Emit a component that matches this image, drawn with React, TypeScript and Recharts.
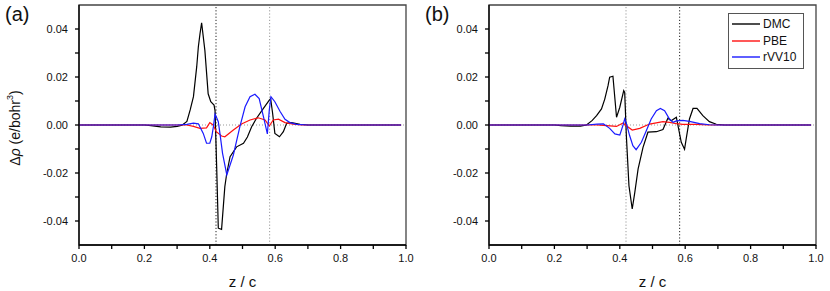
import React from 'react';
import { LineChart, Line, XAxis, YAxis, ReferenceLine, ReferenceArea, Legend } from 'recharts';

type Pt = [number, number];

// panel (a)
const dmcA: Pt[] = [
  [0, 0], [0.2, 0], [0.22, -0.0003], [0.25, -0.0008], [0.28, -0.0009], [0.3, -0.0006], [0.315, -0.0001],
  [0.33, 0.0015], [0.34, 0.0063], [0.35, 0.0118], [0.36, 0.0243], [0.365, 0.0326], [0.37, 0.038],
  [0.375, 0.0426], [0.385, 0.031], [0.395, 0.013], [0.403, 0.0097], [0.413, 0.0083], [0.416, 0.006],
  [0.421, -0.0174], [0.426, -0.043], [0.436, -0.0435], [0.446, -0.0257], [0.452, -0.02], [0.462, -0.0132],
  [0.482, -0.0091], [0.503, -0.0076], [0.515, -0.005], [0.528, -0.0007], [0.543, 0.0028], [0.564, 0.0069],
  [0.582, 0.0104], [0.586, 0.011], [0.592, 0.005], [0.599, -0.0035], [0.613, -0.0049], [0.625, -0.0028],
  [0.635, 0.0007], [0.65, 0.001], [0.676, 0.0003], [0.7, 0], [0.985, 0],
];
const pbeA: Pt[] = [
  [0, 0], [0.33, 0], [0.35, -0.0006], [0.37, -0.0014], [0.39, -0.0012], [0.4, 0.001], [0.41, 0],
  [0.42, -0.0028], [0.436, -0.0046], [0.446, -0.0049], [0.472, -0.0021], [0.497, 0.0004], [0.523, 0.0021],
  [0.548, 0.003], [0.569, 0.0021], [0.582, -0.0004], [0.594, 0.0021], [0.61, 0.0024], [0.63, 0.001],
  [0.655, 0.0003], [0.68, 0], [0.985, 0],
];
const rvvA: Pt[] = [
  [0, 0], [0.3, 0], [0.33, 0.0003], [0.35, 0.0008], [0.365, 0.0005], [0.38, -0.0035], [0.39, -0.0076],
  [0.4, -0.0076], [0.406, -0.0049], [0.411, -0.0007], [0.416, 0.0045], [0.421, 0.003], [0.426, 0.0014],
  [0.431, -0.0035], [0.439, -0.0118], [0.452, -0.0208], [0.472, -0.0125], [0.492, -0.0007], [0.508, 0.0076],
  [0.523, 0.0118], [0.538, 0.0128], [0.551, 0.011], [0.564, 0.0035], [0.576, -0.0037], [0.582, 0.0063],
  [0.587, 0.0118], [0.599, 0.0097], [0.615, 0.0056], [0.63, 0.0024], [0.645, 0.001], [0.666, 0.0003],
  [0.7, 0], [0.985, 0],
];

// panel (b)
const dmcB: Pt[] = [
  [0, 0], [0.2, 0], [0.22, -0.0003], [0.25, -0.0005], [0.28, -0.0005], [0.298, 0], [0.315, 0.0018],
  [0.329, 0.0039], [0.344, 0.0067], [0.354, 0.0108], [0.364, 0.0164], [0.369, 0.0199], [0.379, 0.0203],
  [0.39, 0.0032], [0.4, 0.0074], [0.412, 0.0143], [0.415, 0.0136], [0.42, -0.0044], [0.428, -0.0253],
  [0.438, -0.035], [0.446, -0.028], [0.456, -0.0183], [0.471, -0.0093], [0.486, -0.003], [0.512, -0.0028],
  [0.532, -0.0019], [0.547, 0.0028], [0.557, 0.0018], [0.573, 0.0032], [0.581, -0.0024], [0.588, -0.0072],
  [0.598, -0.0101], [0.603, -0.0058], [0.613, 0.0025], [0.624, 0.0069], [0.636, 0.0069], [0.654, 0.0039],
  [0.674, 0.0014], [0.695, 0.0003], [0.72, 0], [0.985, 0],
];
const pbeB: Pt[] = [
  [0, 0], [0.33, 0], [0.36, -0.0003], [0.39, -0.0006], [0.41, 0.0008], [0.42, -0.0003], [0.438, -0.0021],
  [0.461, -0.0014], [0.491, 0.0004], [0.532, 0.0014], [0.552, 0.0011], [0.573, 0.0006], [0.593, 0.0003],
  [0.634, 0.0003], [0.67, 0], [0.985, 0],
];
const rvvB: Pt[] = [
  [0, 0], [0.3, 0], [0.33, 0.0004], [0.35, 0.0005], [0.369, -0.0014], [0.385, -0.0037], [0.4, -0.0042],
  [0.41, 0], [0.415, 0.0025], [0.42, 0.0008], [0.43, -0.0044], [0.44, -0.0086], [0.45, -0.0103],
  [0.466, -0.0072], [0.481, -0.0024], [0.496, 0.0025], [0.512, 0.006], [0.524, 0.0069], [0.537, 0.006],
  [0.552, 0.0025], [0.563, 0.0011], [0.573, 0.0017], [0.593, 0.0019], [0.613, 0.0015], [0.644, 0.0006],
  [0.674, 0.0001], [0.7, 0], [0.985, 0],
];

const seriesNames = ['DMC', 'PBE', 'rVV10'];
const seriesColors = ['#000000', '#ff1010', '#1a1aff'];
const xTicks = [0, 0.1, 0.2, 0.3, 0.4, 0.5, 0.6, 0.7, 0.8, 0.9, 1.0];
const yTicks = [-0.04, -0.03, -0.02, -0.01, 0, 0.01, 0.02, 0.03, 0.04];
const slabLines = [0.419, 0.583];

const font = '"Liberation Sans", Arial, sans-serif';
const toRows = (pts: Pt[], key: string) => pts.map(([z, rho]) => ({ z, [key]: rho }));

const xFmt = (v: number) => (Math.round(v * 10) % 2 === 0 ? v.toFixed(1) : '');
const yFmt = (v: number) => (Math.round(v * 100) % 2 === 0 ? v.toFixed(2) : '');

const YLabel = (p: any) => {
  const vb = p.viewBox || { y: 5, height: 240 };
  const cx = 20;
  const cy = vb.y + vb.height / 2 + 3;
  return (
    <text x={cx} y={cy} transform={`rotate(-90 ${cx} ${cy})`} textAnchor="middle" fontSize={14} fill="#111" fontFamily={font}>
      <tspan>Δ</tspan>
      <tspan fontStyle="italic">ρ</tspan>
      <tspan> (e/bohr</tspan>
      <tspan dy={-7} fontSize={9}>3</tspan>
      <tspan dy={7}>)</tspan>
    </text>
  );
};

const XLabel = (p: any) => {
  const vb = p.viewBox || { x: 79, width: 327 };
  return (
    <text x={vb.x + vb.width / 2} y={287} textAnchor="middle" fontSize={15} fill="#111" fontFamily={font}>
      z / c
    </text>
  );
};

const LegendBox = () => (
  <div style={{ border: '1px solid #555', background: '#fff', padding: '2px 3px', width: 68, fontFamily: font, fontSize: 12 }}>
    {seriesNames.map((name, i) => (
      <div key={name} style={{ display: 'flex', alignItems: 'center', height: 16.5 }}>
        <svg width={28} height={4} style={{ marginRight: 3, display: 'block' }}>
          <line x1={0} y1={2} x2={28} y2={2} stroke={seriesColors[i]} strokeWidth={1.4} />
        </svg>
        <span style={{ color: '#111' }}>{name}</span>
      </div>
    ))}
  </div>
);

function Panel({ tag, dmc, pbe, rvv, darkLine, showYLabel, showLegend }: {
  tag: string; dmc: Pt[]; pbe: Pt[]; rvv: Pt[]; darkLine: number; showYLabel: boolean; showLegend: boolean;
}) {
  const sets = [toRows(dmc, 'dmc'), toRows(pbe, 'pbe'), toRows(rvv, 'rvv')];
  const keys = ['dmc', 'pbe', 'rvv'];
  return (
    <div style={{ position: 'relative', width: 415, height: 291 }}>
      <LineChart width={415} height={291} margin={{ top: 5, right: 9, bottom: 0, left: 0 }}>
        <XAxis
          dataKey="z"
          type="number"
          domain={[0, 1]}
          ticks={xTicks}
          tickFormatter={xFmt}
          height={46}
          tickSize={4}
          tickMargin={5}
          interval={0}
          stroke="#000"
          strokeWidth={1.3}
          tick={{ fill: '#111', fontSize: 11, fontFamily: font }}
          allowDataOverflow
          label={<XLabel />}
        />
        <YAxis
          type="number"
          domain={[-0.05, 0.05]}
          ticks={yTicks}
          tickFormatter={yFmt}
          width={79}
          tickSize={4}
          tickMargin={7}
          interval={0}
          stroke="#000"
          strokeWidth={1.3}
          tick={{ fill: '#111', fontSize: 11, fontFamily: font }}
          allowDataOverflow
          label={showYLabel ? <YLabel /> : undefined}
        />
        <ReferenceArea x1={0} x2={1} y1={-0.05} y2={0.05} fill="none" stroke="#444" strokeWidth={1.3} ifOverflow="visible" />
        <ReferenceLine y={0} stroke="#999" strokeDasharray="1 2" />
        {slabLines.map((x) => (
          <ReferenceLine key={x} x={x} stroke={x === darkLine ? '#222' : '#999'} strokeDasharray="1.2 2" />
        ))}
        {keys.map((k, i) => (
          <Line
            key={k}
            data={sets[i]}
            dataKey={k}
            name={seriesNames[i]}
            stroke={seriesColors[i]}
            strokeWidth={1.2}
            dot={false}
            isAnimationActive={false}
          />
        ))}
        {showLegend && (
          <Legend
            layout="vertical"
            align="center"
            verticalAlign="middle"
            content={<LegendBox />}
            wrapperStyle={{ left: 318, top: 13, width: 'auto' }}
          />
        )}
      </LineChart>
      <span style={{ position: 'absolute', left: tag === '(a)' ? 5 : 15, top: 3, fontFamily: font, fontSize: 20, color: '#111' }}>
        {tag}
      </span>
    </div>
  );
}

export default function App() {
  return (
    <div style={{ position: 'absolute', left: 0, top: 0, width: 830, height: 291, background: '#fff' }}>
      <div style={{ position: 'absolute', left: 0, top: 0 }}>
        <Panel tag="(a)" dmc={dmcA} pbe={pbeA} rvv={rvvA} darkLine={0.419} showYLabel showLegend={false} />
      </div>
      <div style={{ position: 'absolute', left: 410, top: 0 }}>
        <Panel tag="(b)" dmc={dmcB} pbe={pbeB} rvv={rvvB} darkLine={0.583} showYLabel={false} showLegend />
      </div>
    </div>
  );
}
